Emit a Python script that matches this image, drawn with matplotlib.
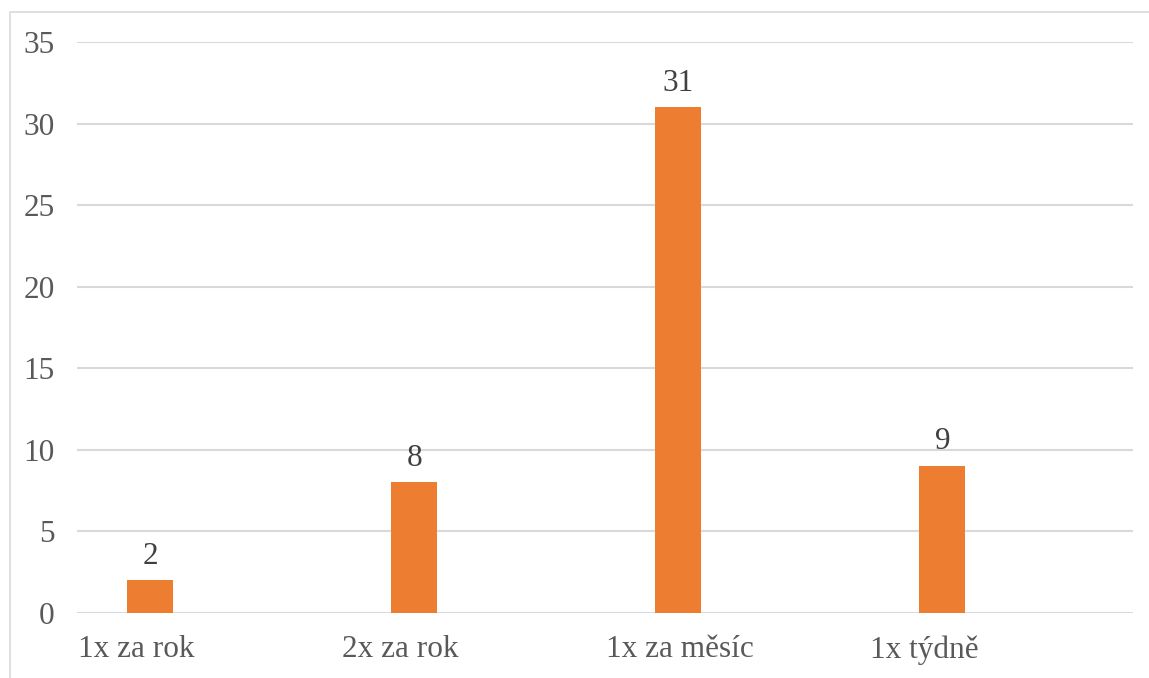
import matplotlib

matplotlib.use("Agg")
import matplotlib.pyplot as plt
from matplotlib.patches import Rectangle

categories = ["1x za rok", "2x za rok", "1x za měsíc", "1x týdně"]
values = [2, 8, 31, 9]
y_ticks = [0, 5, 10, 15, 20, 25, 30, 35]

BAR = "#ED7D31"
GRID = "#D9D9D9"
TXT = "#595959"
FS = 22.5

plt.rcParams["font.family"] = ["Liberation Serif", "DejaVu Serif"]

W, H = 1149, 678
fig = plt.figure(figsize=(W / 100, H / 100), dpi=100)
ax = fig.add_axes([77 / W, 1 - 613 / H, (1133 - 77) / W, (613 - 42) / H])

# chart frame (only top and left edges visible in the reference)
fig.patches.append(Rectangle((10 / W, -0.1), 1.2, 1.1 - 12 / H, transform=fig.transFigure,
                             fill=False, edgecolor=GRID, lw=1.2))

xs = [i - 0.222 for i in range(len(categories))]
ax.bar(xs, values, width=0.174, color=BAR, zorder=3)
for x, v in zip(xs, values):
    ax.annotate(f"{v}", (x, v), xytext=(0, 7), textcoords="offset points",
                ha="center", va="bottom", fontsize=FS, color="#404040")

ax.set_xlim(-0.5, len(categories) - 0.5)
ax.set_ylim(0, 35)
ax.set_yticks(y_ticks)
ax.set_xticks([i - 0.496 for i in range(len(categories))])
ax.set_xticklabels(categories, ha="left")
ax.tick_params(axis="both", length=0, labelsize=FS, labelcolor=TXT)
ax.tick_params(axis="y", pad=16)
ax.tick_params(axis="x", pad=16)
ax.grid(axis="y", color=GRID, lw=1.5, zorder=0)
ax.set_axisbelow(True)
for s in ax.spines.values():
    s.set_visible(False)

fig.savefig("out.png", dpi=100)
